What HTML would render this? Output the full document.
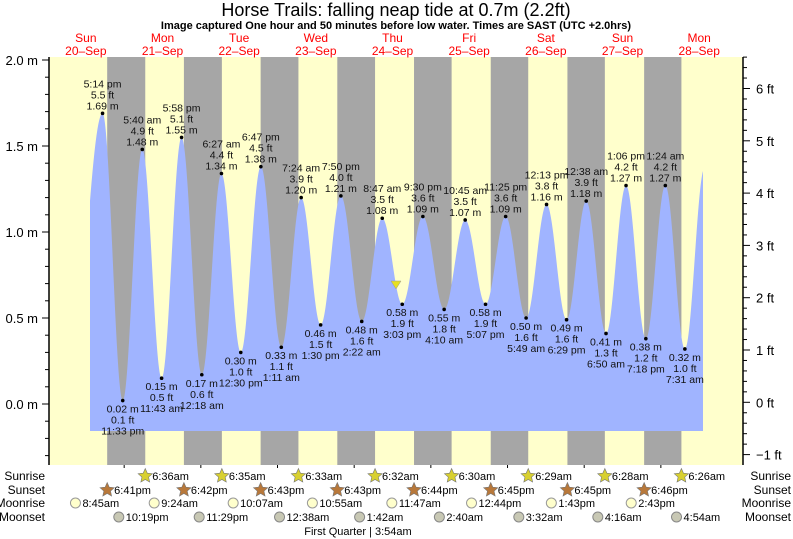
<!DOCTYPE html>
<html><head><meta charset="utf-8"><style>
body{margin:0;background:#fff;width:793px;height:539px;overflow:hidden}
svg{display:block;font-family:"Liberation Sans",sans-serif}
</style></head><body>
<svg id="s" width="793" height="539" xmlns="http://www.w3.org/2000/svg"></svg>
<script>
const S=document.getElementById('s');let h='';
const X=t=>47.5+t*3.1946, Y=m=>404-172*m;
const PT=57,PB=465,PL=49,PR=743;
h+=`<rect x="${PL}" y="${PT}" width="${PR-PL}" height="${PB-PT}" fill="#ffffcc"/>`;
const ss=[[0,18,41],[1,18,42],[2,18,43],[3,18,43],[4,18,44],[5,18,45],[6,18,45],[7,18,46]];
const sr=[[1,6,36],[2,6,35],[3,6,33],[4,6,32],[5,6,30],[6,6,29],[7,6,28],[8,6,26]];
const T=(d,hh,mm)=>d*24+hh+mm/60;
for(let i=0;i<8;i++){const a=X(T(...ss[i])),b=X(T(...sr[i]));h+=`<rect x="${a}" y="${PT}" width="${b-a}" height="${PB-PT}" fill="#a6a6a6"/>`;}
const E=[[6.6,0.0],[T(0,17,14),1.69,1],[T(0,23,33),0.02,0],[T(1,5,40),1.48,1],[T(1,11,43),0.15,0],[T(1,17,58),1.55,1],[T(2,0,18),0.17,0],[T(2,6,27),1.34,1],[T(2,12,30),0.30,0],[T(2,18,47),1.38,1],[T(3,1,11),0.33,0],[T(3,7,24),1.20,1],[T(3,13,30),0.46,0],[T(3,19,50),1.21,1],[T(4,2,22),0.48,0],[T(4,8,47),1.08,1],[T(4,15,3),0.58,0],[T(4,21,30),1.09,1],[T(5,4,10),0.55,0],[T(5,10,45),1.07,1],[T(5,17,7),0.58,0],[T(5,23,25),1.09,1],[T(6,5,49),0.50,0],[T(6,12,13),1.16,1],[T(6,18,29),0.49,0],[T(7,0,38),1.18,1],[T(7,6,50),0.41,0],[T(7,13,6),1.27,1],[T(7,19,18),0.38,0],[T(8,1,24),1.27,1],[T(8,7,31),0.32,0],[T(8,13,40),1.37,1]];
const lab=["","5:14 pm","11:33 pm","5:40 am","11:43 am","5:58 pm","12:18 am","6:27 am","12:30 pm","6:47 pm","1:11 am","7:24 am","1:30 pm","7:50 pm","2:22 am","8:47 am","3:03 pm","9:30 pm","4:10 am","10:45 am","5:07 pm","11:25 pm","5:49 am","12:13 pm","6:29 pm","12:38 am","6:50 am","1:06 pm","7:18 pm","1:24 am","7:31 am"];
const x0=90,x1=703,yb=431;let p=`M${x0},${yb}`;
for(let x=x0;x<=x1;x+=0.5){const t=(x-47.5)/3.1946;let i=0;while(i<E.length-2&&E[i+1][0]<t)i++;const[a,va]=E[i],[b,vb]=E[i+1];const f=(t-a)/(b-a);const v=va+(vb-va)*(1-Math.cos(Math.PI*f))/2;p+=`L${x},${Math.min(Y(v),yb)}`;}
p+=`L${x1},${yb}Z`;h+=`<path d="${p}" fill="#a0b4ff"/>`;
for(let i=1;i<E.length-1;i++){const[t,v,hi]=E[i];const x=X(t),y=Y(v);const ft=(v*3.2808).toFixed(1);h+=`<circle cx="${x}" cy="${y}" r="1.8" fill="#000"/>`;
const L=hi?[lab[i],ft+" ft",v.toFixed(2)+" m"]:[v.toFixed(2)+" m",ft+" ft",lab[i]];
L.forEach((s,k)=>{const yy=hi?y-4-(2-k)*11:y+12+k*11;h+=`<text x="${x}" y="${yy}" font-size="10.5" text-anchor="middle" fill="#111">${s}</text>`});}
h+=`<polygon points="391,281 401,281 396,289" fill="#e8e020" stroke="#999" stroke-width="0.5"/>`;
h+=`<line x1="${PL}" y1="${PT}" x2="${PL}" y2="${PB}" stroke="#000" stroke-width="1.5"/><line x1="${PR}" y1="${PT}" x2="${PR}" y2="${PB}" stroke="#000" stroke-width="1.5"/>`;
for(let k=-3;k<=20;k++){const m=k/10,y=Y(m);if(y<PT||y>PB)continue;const maj=k%5==0;h+=`<line x1="${PL-(maj?7:4)}" y1="${y}" x2="${PL}" y2="${y}" stroke="#000"/>`;if(maj)h+=`<text x="38" y="${y+5}" font-size="13" text-anchor="end">${m.toFixed(1)} m</text>`;}
for(let k=-6;k<=33;k++){const f=k/5,y=402.3-52.3*f;if(y<PT||y>PB)continue;const maj=k%5==0;h+=`<line x1="${PR}" y1="${y}" x2="${PR+(maj?7:4)}" y2="${y}" stroke="#000"/>`;if(maj)h+=`<text x="756" y="${y+5}" font-size="13">${f<0?"\u22121":f} ft</text>`;}
for(let d=1;d<9;d++)h+=`<line x1="${X(d*24)}" y1="${PB}" x2="${X(d*24)}" y2="${PB+3}" stroke="#000"/>`;
h+=`<text x="396" y="16" font-size="18" text-anchor="middle">Horse Trails: falling  neap tide at 0.7m (2.2ft)</text>`;
h+=`<text x="396" y="29" font-size="11" font-weight="bold" text-anchor="middle">Image captured One hour and 50 minutes before low water. Times are SAST (UTC +2.0hrs)</text>`;
const dn=["Sun","Mon","Tue","Wed","Thu","Fri","Sat","Sun","Mon"];
for(let d=0;d<9;d++){const x=X(d*24+12);h+=`<text x="${x}" y="42" font-size="12" fill="#f00" text-anchor="middle">${dn[d]}</text><text x="${x}" y="55" font-size="12" fill="#f00" text-anchor="middle">${20+d}\u2013Sep</text>`;}
const rows=[["Sunrise",480],["Sunset",494],["Moonrise",507],["Moonset",521]];
rows.forEach(([n,y])=>{h+=`<text x="45" y="${y}" font-size="12" text-anchor="end">${n}</text><text x="791" y="${y}" font-size="12" text-anchor="end">${n}</text>`});
const star=(x,y,c)=>{let q="";for(let i=0;i<10;i++){const r=i%2?3.5:7.5,a=-Math.PI/2+i*Math.PI/5;q+=`${x+r*Math.cos(a)},${y+r*Math.sin(a)} `;}return `<polygon points="${q}" fill="${c}" stroke="#777" stroke-width="0.6"/>`};
sr.forEach(([d,a,b])=>{const x=X(T(d,a,b));h+=star(x,476,"#d8d030")+`<text x="${x+7}" y="480" font-size="11">${a}:${String(b).padStart(2,"0")}am</text>`});
ss.forEach(([d,a,b])=>{const x=X(T(d,a,b));h+=star(x,490,"#b8783a")+`<text x="${x+7}" y="494" font-size="11">${a-12}:${String(b).padStart(2,"0")}pm</text>`});
const mr=[[0,8,45,"8:45am"],[1,9,24,"9:24am"],[2,10,7,"10:07am"],[3,10,55,"10:55am"],[4,11,47,"11:47am"],[5,12,44,"12:44pm"],[6,13,43,"1:43pm"],[7,14,43,"2:43pm"]];
mr.forEach(([d,a,b,s])=>{const x=X(T(d,a,b));h+=`<circle cx="${x}" cy="503" r="5" fill="#ffffcc" stroke="#999"/><text x="${x+7}" y="507" font-size="11">${s}</text>`});
const ms=[[0,22,19,"10:19pm"],[1,23,29,"11:29pm"],[3,0,38,"12:38am"],[4,1,42,"1:42am"],[5,2,40,"2:40am"],[6,3,32,"3:32am"],[7,4,16,"4:16am"],[8,4,54,"4:54am"]];
ms.forEach(([d,a,b,s])=>{const x=X(T(d,a,b));h+=`<circle cx="${x}" cy="517" r="5" fill="#c8c8b4" stroke="#888"/><text x="${x+7}" y="521" font-size="11">${s}</text>`});
h+=`<text x="366" y="535" font-size="11" text-anchor="end">First Quarter</text><text x="366" y="535" font-size="11">&#160;| 3:54am</text>`;
S.innerHTML=h;
</script>
</body></html>
